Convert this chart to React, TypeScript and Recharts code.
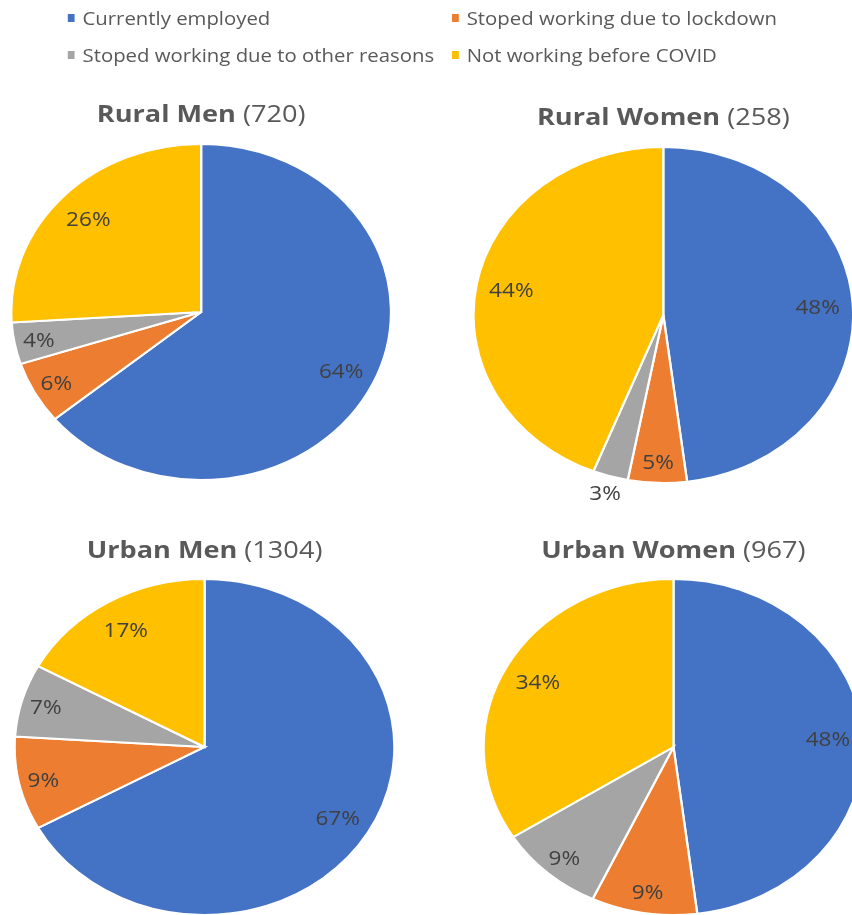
import React from 'react';
import { PieChart, Pie, Cell } from 'recharts';

const categories = [
  'Currently employed',
  'Stoped working due to lockdown',
  'Stoped working due to other reasons',
  'Not working before COVID',
];
const colors = ['#4472C4', '#ED7D31', '#A5A5A5', '#FFC000'];

const groupNames = ['Rural Men', 'Rural Women', 'Urban Men', 'Urban Women'];
const groupCounts = [720, 258, 1304, 967];

const ruralMen = [64, 6, 4, 26];
const ruralWomen = [48, 5, 3, 44];
const urbanMen = [67, 9, 7, 17];
const urbanWomen = [48, 9, 9, 34];
const groupValues = [ruralMen, ruralWomen, urbanMen, urbanWomen];

// layout (unscaled coordinates; the whole figure is stretched horizontally)
const SX = 1.13;
const W = Math.round(852 / SX);
const H = 915;
const R = 168;
const pieCenters = [
  { cx: 178, cy: 312 },
  { cx: 587, cy: 315 },
  { cx: 181, cy: 747 },
  { cx: 596, cy: 747 },
];
const titleY = [113, 116, 549, 549];
const FONT = '"Open Sans", "Noto Sans", sans-serif';

const RAD = Math.PI / 180;

const renderLabel = (props: any) => {
  const { cx, cy, midAngle, outerRadius, percent, value } = props;
  let rr = outerRadius * 0.815;
  if (percent < 0.04) rr = outerRadius * 1.1;
  else if (percent < 0.1) rr = outerRadius * 0.87;
  const x = cx + rr * Math.cos(-midAngle * RAD);
  const y = cy + rr * Math.sin(-midAngle * RAD);
  return (
    <text
      x={x}
      y={y}
      fill="#404040"
      textAnchor="middle"
      dominantBaseline="central"
      style={{ fontFamily: FONT, fontSize: 20 }}
    >
      {`${value}%`}
    </text>
  );
};

const LegendBlock = () => {
  const rows = [
    [0, 1],
    [2, 3],
  ];
  const rowY = [18, 55];
  const colSq = [60, 400];
  return (
    <div style={{ position: 'absolute', left: 0, top: 0, width: W, height: 75 }}>
      {rows.map((row, ri) =>
        row.map((ci, cj) => (
          <div
            key={ci}
            style={{
              position: 'absolute',
              left: colSq[cj],
              top: rowY[ri] - 12,
              height: 24,
              display: 'flex',
              alignItems: 'center',
              whiteSpace: 'nowrap',
            }}
          >
            <span
              style={{
                display: 'inline-block',
                width: 6,
                height: 8,
                background: colors[ci],
                marginRight: 7,
              }}
            />
            <span style={{ fontFamily: FONT, fontSize: 18, color: '#595959' }}>
              {categories[ci]}
            </span>
          </div>
        ))
      )}
    </div>
  );
};

export default function App() {
  return (
    <div
      style={{
        position: 'absolute',
        left: 0,
        top: 0,
        width: 852,
        height: H,
        overflow: 'hidden',
        background: '#fff',
      }}
    >
      <div
        style={{
          position: 'relative',
          width: W,
          height: H,
          transform: `scaleX(${SX})`,
          transformOrigin: '0 0',
        }}
      >
        <PieChart width={W} height={H} margin={{ top: 0, right: 0, bottom: 0, left: 0 }}>
          {groupValues.map((vals, gi) => {
            const data = vals.map((v, i) => ({ name: categories[i], value: v }));
            return (
              <Pie
                key={groupNames[gi]}
                data={data}
                dataKey="value"
                nameKey="name"
                cx={pieCenters[gi].cx}
                cy={pieCenters[gi].cy}
                outerRadius={R}
                startAngle={90}
                endAngle={-270}
                stroke="#ffffff"
                strokeWidth={2}
                label={renderLabel}
                labelLine={false}
                isAnimationActive={false}
              >
                {data.map((d, i) => (
                  <Cell key={d.name} fill={colors[i]} />
                ))}
              </Pie>
            );
          })}
        </PieChart>
        <LegendBlock />
        {groupNames.map((g, gi) => (
          <div
            key={g}
            style={{
              position: 'absolute',
              left: pieCenters[gi].cx - 200,
              width: 400,
              top: titleY[gi] - 18,
              height: 36,
              lineHeight: '36px',
              textAlign: 'center',
              fontFamily: FONT,
              fontSize: 24,
              color: '#595959',
              whiteSpace: 'nowrap',
            }}
          >
            <span style={{ fontWeight: 700 }}>{g}</span>
            <span style={{ fontWeight: 400 }}>{` (${groupCounts[gi]})`}</span>
          </div>
        ))}
      </div>
    </div>
  );
}
